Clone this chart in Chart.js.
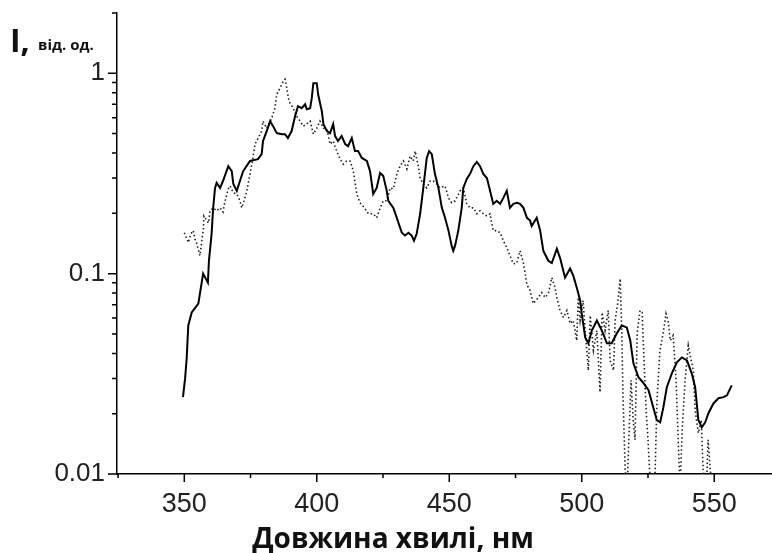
<!DOCTYPE html>
<html>
<head>
<meta charset="utf-8">
<script src="https://cdn.jsdelivr.net/npm/chart.js@4"></script>
<style>
  body { margin: 0; background: #fff; }
  #wrap { width: 772px; height: 553px; }
</style>
</head>
<body>
<div id="wrap"><canvas id="chart" width="772" height="553"></canvas></div>
<script>
// wavelength (nm) and intensity (rel. units) of the solid curve
const solidNm = [
  349.5, 350.3, 350.9, 351.5, 352.8, 355.3, 355.9, 357.1, 358.9, 359.3,
  360.3, 360.9, 361.6, 362.2, 363.5, 364.6, 366.6, 367.9, 368.5, 369.8,
  371.0, 372.2, 374.8, 377.8, 379.2, 379.7, 381.1, 382.4, 383.5, 384.9,
  386.8, 388.0, 389.1, 390.5, 391.8, 392.9, 394.3, 395.6, 396.2, 397.5,
  398.1, 398.7, 400.0, 400.5, 401.9, 402.5, 403.8, 405.0, 406.2, 406.9,
  408.0, 409.4, 410.7, 411.8, 413.2, 414.4, 415.6, 417.0, 418.9, 420.1,
  421.3, 422.6, 423.9, 425.1, 426.4, 427.0, 428.9, 430.2, 432.1, 433.3,
  434.6, 435.8, 436.7, 437.7, 439.0, 440.2, 441.5, 442.4, 443.4, 444.6,
  445.9, 447.2, 448.4, 449.7, 450.9, 451.5, 452.2, 453.4, 454.7, 455.3,
  456.6, 457.8, 459.1, 460.4, 461.6, 462.9, 464.2, 465.4, 466.6, 467.9,
  469.2, 470.4, 471.7, 472.9, 474.2, 475.5, 476.7, 478.0, 479.3, 480.5,
  481.1, 483.0, 484.3, 485.5, 487.4, 488.7, 490.6, 491.8, 493.7, 495.6,
  496.8, 498.1, 499.4, 500.0, 501.3, 502.5, 503.8, 505.7, 507.6, 509.5,
  511.3, 513.2, 515.1, 517.0, 518.3, 519.5, 521.4, 523.3, 525.2, 527.0,
  528.3, 529.6, 530.8, 532.1, 534.0, 535.9, 537.8, 539.7, 541.5, 542.8,
  543.4, 544.0, 545.3, 546.6, 547.8, 549.7, 551.6, 553.5, 554.8, 556.6
];
const solidI = [
  0.0242, 0.0300, 0.0378, 0.0551, 0.0640, 0.0709, 0.0795, 0.100, 0.0902, 0.116,
  0.158, 0.213, 0.268, 0.284, 0.268, 0.290, 0.344, 0.325, 0.280, 0.259,
  0.290, 0.325, 0.365, 0.373, 0.395, 0.459, 0.515, 0.577, 0.545, 0.503,
  0.497, 0.497, 0.475, 0.515, 0.611, 0.685, 0.670, 0.701, 0.662, 0.670,
  0.751, 0.892, 0.892, 0.786, 0.647, 0.558, 0.515, 0.503, 0.558, 0.486,
  0.459, 0.486, 0.443, 0.433, 0.475, 0.409, 0.409, 0.378, 0.365, 0.325,
  0.250, 0.268, 0.318, 0.307, 0.259, 0.231, 0.213, 0.190, 0.160, 0.155,
  0.160, 0.155, 0.146, 0.158, 0.199, 0.268, 0.378, 0.409, 0.395, 0.314,
  0.268, 0.213, 0.190, 0.164, 0.138, 0.130, 0.138, 0.164, 0.213, 0.268,
  0.297, 0.314, 0.344, 0.361, 0.344, 0.314, 0.300, 0.259, 0.223, 0.231,
  0.223, 0.239, 0.259, 0.213, 0.223, 0.226, 0.223, 0.213, 0.190, 0.184,
  0.173, 0.190, 0.164, 0.130, 0.116, 0.113, 0.133, 0.120, 0.0955, 0.106,
  0.0977, 0.0852, 0.0734, 0.0632, 0.0480, 0.0449, 0.0520, 0.0584, 0.0520, 0.0449,
  0.0449, 0.0503, 0.0551, 0.0539, 0.0464, 0.0357, 0.0304, 0.0284, 0.0262, 0.0215,
  0.0186, 0.0181, 0.0215, 0.0271, 0.0318, 0.0361, 0.0382, 0.0369, 0.0318, 0.0271,
  0.0225, 0.0186, 0.0171, 0.0181, 0.0201, 0.0225, 0.0239, 0.0242, 0.0247, 0.0277
];

// dotted curve
const dottedNm = [
  350.0, 350.6, 351.5, 352.5, 353.4, 354.0, 354.7, 355.9, 356.6, 357.2,
  357.4, 358.5, 359.1, 359.7, 360.9, 362.2, 363.5, 364.6, 365.4, 366.6,
  367.3, 368.5, 369.8, 371.0, 371.7, 372.9, 373.6, 374.8, 375.9, 376.7,
  377.9, 379.2, 379.7, 381.1, 383.0, 384.2, 384.9, 386.1, 387.3, 388.0,
  388.7, 389.3, 389.9, 391.1, 392.4, 393.7, 394.9, 396.2, 397.5, 398.7,
  400.0, 401.2, 402.5, 403.8, 405.0, 406.2, 407.5, 408.8, 410.0, 411.3,
  412.6, 413.8, 415.1, 416.3, 417.6, 419.5, 421.3, 422.6, 423.9, 425.1,
  426.4, 427.7, 428.9, 430.2, 431.4, 432.7, 434.0, 435.2, 436.4, 437.1,
  438.3, 439.0, 440.2, 441.5, 442.8, 444.0, 445.3, 446.5, 448.4, 449.7,
  450.9, 452.2, 454.1, 455.3, 456.6, 457.9, 459.1, 460.4, 461.6, 462.9,
  464.2, 465.4, 466.0, 466.6, 467.9, 469.2, 470.4, 471.7, 472.9, 474.2,
  475.5, 476.7, 478.0, 479.3, 480.5, 481.7, 483.6, 484.9, 486.2, 487.4,
  488.7, 489.9, 490.6, 491.8, 493.1, 494.4, 495.6, 496.8, 498.1, 498.7,
  499.4, 500.5, 501.3, 502.5, 503.2, 504.4, 505.7, 506.9, 507.7, 508.8,
  510.0, 510.7, 512.0, 512.6, 513.7, 514.5, 515.1, 515.6, 516.4, 517.1,
  517.9, 518.6, 519.4, 520.1, 520.9, 522.0, 522.8, 523.5, 524.3, 525.0,
  525.8, 526.5, 527.6, 528.4, 529.5, 530.7, 531.8, 532.6, 533.4, 534.5,
  535.6, 536.4, 537.1, 537.9, 539.0, 540.2, 541.3, 542.1, 542.8, 544.0,
  545.1, 545.8, 547.0, 547.7, 548.5, 549.2
];
const dottedI = [
  0.160, 0.153, 0.143, 0.158, 0.164, 0.149, 0.141, 0.123, 0.146, 0.167,
  0.194, 0.184, 0.179, 0.206, 0.213, 0.206, 0.213, 0.203, 0.231, 0.265,
  0.274, 0.253, 0.250, 0.231, 0.213, 0.239, 0.259, 0.314, 0.378, 0.443,
  0.475, 0.515, 0.577, 0.532, 0.597, 0.670, 0.786, 0.842, 0.912, 0.934,
  0.842, 0.751, 0.709, 0.670, 0.611, 0.577, 0.545, 0.558, 0.577, 0.497,
  0.532, 0.577, 0.532, 0.526, 0.443, 0.459, 0.409, 0.373, 0.352, 0.365,
  0.365, 0.325, 0.250, 0.226, 0.216, 0.199, 0.199, 0.190, 0.213, 0.231,
  0.231, 0.268, 0.265, 0.314, 0.344, 0.365, 0.333, 0.386, 0.365, 0.409,
  0.344, 0.300, 0.280, 0.268, 0.290, 0.290, 0.280, 0.268, 0.274, 0.239,
  0.226, 0.231, 0.259, 0.268, 0.223, 0.213, 0.213, 0.199, 0.206, 0.199,
  0.194, 0.199, 0.179, 0.164, 0.164, 0.160, 0.146, 0.135, 0.123, 0.112,
  0.113, 0.130, 0.113, 0.0881, 0.0823, 0.0709, 0.0760, 0.0804, 0.0760, 0.0796,
  0.0955, 0.0852, 0.0760, 0.0655, 0.0604, 0.0655, 0.0564, 0.0584, 0.0464, 0.0760,
  0.0584, 0.0734, 0.0520, 0.0329, 0.0618, 0.0414, 0.0520, 0.0256, 0.0640, 0.0520,
  0.0655, 0.0369, 0.0329, 0.0584, 0.0734, 0.0944, 0.0520, 0.0233, 0.0105, 0.0083,
  0.0166, 0.0294, 0.0186, 0.0148, 0.0503, 0.0655, 0.0640, 0.0369, 0.0208, 0.0148,
  0.0093, 0.0083, 0.0093, 0.0233, 0.0414, 0.0503, 0.0632, 0.0584, 0.0464, 0.0492,
  0.0294, 0.0148, 0.0083, 0.0166, 0.0294, 0.0438, 0.0369, 0.0329, 0.0208, 0.0160,
  0.0186, 0.0105, 0.0083, 0.0148, 0.0105, 0.0083
];

// axes
const xMajor = [350, 400, 450, 500, 550];
const xMinor = [325, 375, 425, 475, 525];
const yMajor = [0.01, 0.1, 1];
const yMajorLabels = ['0.01', '0.1', '1'];
const yMinor = [0.02, 0.03, 0.04, 0.05, 0.06, 0.07, 0.08, 0.09,
                0.2, 0.3, 0.4, 0.5, 0.6, 0.7, 0.8, 0.9, 2];
const xTitle = 'Довжина хвилі, нм';
const yTitleMain = 'I,';
const yTitleUnit = 'від. од.';

// tick marks and axis titles
const axisDecor = {
  id: 'axisDecor',
  afterDraw(chart) {
    const { ctx, chartArea } = chart;
    const x = chart.scales.x;
    const y = chart.scales.y;
    ctx.save();
    ctx.strokeStyle = '#000';
    ctx.lineWidth = 1.5;
    ctx.beginPath();
    xMajor.forEach(v => {
      const px = x.getPixelForValue(v);
      ctx.moveTo(px, chartArea.bottom);
      ctx.lineTo(px, chartArea.bottom + 8);
    });
    xMinor.forEach(v => {
      const px = x.getPixelForValue(v);
      ctx.moveTo(px, chartArea.bottom);
      ctx.lineTo(px, chartArea.bottom + 4);
    });
    yMajor.forEach(v => {
      const py = y.getPixelForValue(v);
      ctx.moveTo(chartArea.left, py);
      ctx.lineTo(chartArea.left - 9, py);
    });
    yMinor.forEach(v => {
      const py = y.getPixelForValue(v);
      ctx.moveTo(chartArea.left, py);
      ctx.lineTo(chartArea.left - 5, py);
    });
    ctx.stroke();

    ctx.fillStyle = '#111';
    ctx.textBaseline = 'alphabetic';
    ctx.textAlign = 'center';
    ctx.font = '700 28px "Open Sans"';
    ctx.fillText(xTitle, 393, 548);
    ctx.textAlign = 'left';
    ctx.font = '700 32px "Open Sans"';
    ctx.fillText(yTitleMain, 10, 52);
    ctx.font = '700 15px "Open Sans"';
    ctx.fillText(yTitleUnit, 38, 50);
    ctx.restore();
  }
};

new Chart(document.getElementById('chart'), {
  type: 'line',
  data: {
    datasets: [{
      label: 'solid',
      data: solidNm.map((v, i) => ({ x: v, y: solidI[i] })),
      borderColor: '#000',
      borderWidth: 2,
      pointRadius: 0,
      tension: 0
    }, {
      label: 'dotted',
      data: dottedNm.map((v, i) => ({ x: v, y: dottedI[i] })),
      borderColor: '#222',
      borderWidth: 1.6,
      borderDash: [1.5, 2.5],
      pointRadius: 0,
      tension: 0
    }]
  },
  options: {
    responsive: false,
    animation: false,
    layout: { padding: { top: 13, left: 0, right: 0, bottom: 0 } },
    plugins: {
      legend: { display: false },
      tooltip: { enabled: false }
    },
    scales: {
      x: {
        type: 'linear',
        min: 324.6,
        max: 571.8,
        afterBuildTicks: s => { s.ticks = xMajor.map(v => ({ value: v })); },
        afterFit: s => { s.height = 79; s.paddingLeft = 0; s.paddingRight = 0; },
        grid: { display: false, drawTicks: false },
        border: { display: true, color: '#000', width: 1.5 },
        ticks: {
          padding: 14,
          color: '#222',
          font: { family: '"Liberation Sans", Arial', size: 27 },
          maxRotation: 0,
          callback: v => String(v)
        }
      },
      y: {
        type: 'logarithmic',
        min: 0.01,
        max: 2,
        afterBuildTicks: s => { s.ticks = yMajor.map(v => ({ value: v })); },
        afterFit: s => { s.width = 117; s.paddingTop = 0; s.paddingBottom = 0; },
        grid: { display: false, drawTicks: false },
        border: { display: true, color: '#000', width: 1.5 },
        ticks: {
          padding: 12,
          color: '#222',
          font: { family: '"Liberation Sans", Arial', size: 26 },
          callback: v => {
            const k = yMajor.indexOf(v);
            return k >= 0 ? yMajorLabels[k] : '';
          }
        }
      }
    }
  },
  plugins: [axisDecor]
});
</script>
</body>
</html>
